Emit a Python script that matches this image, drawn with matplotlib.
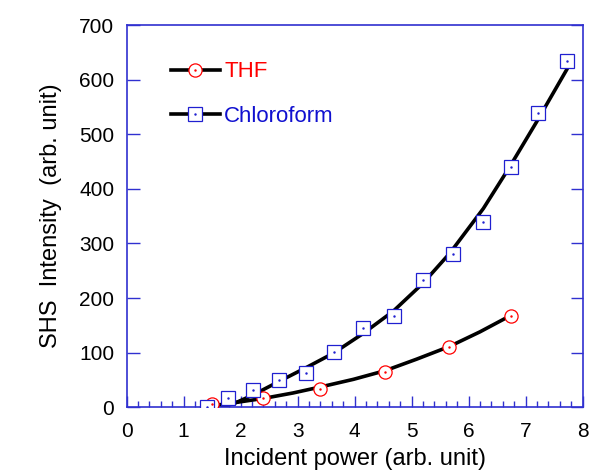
import matplotlib.pyplot as plt
from matplotlib.legend_handler import HandlerTuple

plt.rcParams['font.family'] = ['Liberation Sans', 'DejaVu Sans']

AXIS_BLUE = "#3030d0"

# measured points
THF_X = [1.49, 2.40, 3.40, 4.54, 5.66, 6.74]
THF_Y = [5.5, 17.6, 33.5, 65.2, 111, 167.7]

CHL_X = [1.41, 1.78, 2.21, 2.67, 3.14, 3.64, 4.15, 4.69, 5.20, 5.73, 6.25, 6.74, 7.21, 7.73]
CHL_Y = [0, 17.6, 32.3, 50.6, 63.4, 101.9, 144.6, 166.6, 233, 280.7, 339.3, 440.6, 539.5, 634.7]

# fitted curves
THF_FIT_X = [1.61, 2.40, 2.92, 3.40, 3.98, 4.54, 5.09, 5.66, 6.20, 6.74]
THF_FIT_Y = [4, 16, 26, 37, 51, 67, 88, 111, 138, 168]

CHL_FIT_X = [1.64, 1.87, 2.22, 2.69, 3.16, 3.63, 4.15, 4.68, 5.20, 5.67, 6.26, 6.72, 7.19, 7.72]
CHL_FIT_Y = [0, 6, 22.5, 48, 73, 99, 135, 176, 227, 282, 364, 440, 522, 618]

fig = plt.figure(figsize=(5.89, 4.74), dpi=100)
ax = fig.add_axes([0.215, 0.141, 0.774, 0.806])

ax.plot(THF_FIT_X, THF_FIT_Y, color="black", lw=2.6, zorder=2)
ax.plot(CHL_FIT_X, CHL_FIT_Y, color="black", lw=2.6, zorder=2)

ax.plot(THF_X, THF_Y, "o", ms=9.5, mfc="white", mec="red", mew=0.9, zorder=3)
ax.plot(THF_X, THF_Y, ".", ms=1.5, color="red", zorder=4)
ax.plot(CHL_X, CHL_Y, "s", ms=10, mfc="white", mec="#2020d0", mew=0.9, zorder=3)
ax.plot(CHL_X, CHL_Y, ".", ms=1.5, color="#2020d0", zorder=4)

# legend handles
h_thf = (plt.Line2D([], [], color="black", lw=2.6),
         plt.Line2D([], [], marker="o", ms=9.5, mfc="white", mec="red", mew=0.9, ls="none"),
         plt.Line2D([], [], marker=".", ms=1.5, color="red", ls="none"))
h_chl = (plt.Line2D([], [], color="black", lw=2.6),
         plt.Line2D([], [], marker="s", ms=10, mfc="white", mec="#2020d0", mew=0.9, ls="none"),
         plt.Line2D([], [], marker=".", ms=1.5, color="#2020d0", ls="none"))
leg = ax.legend([h_thf, h_chl], ["THF", "Chloroform"],
                handler_map={tuple: HandlerTuple(ndivide=1, pad=0)},
                loc="upper left", bbox_to_anchor=(0.097, 0.905), frameon=False,
                borderpad=0, borderaxespad=0,
                fontsize=16, handlelength=2.2, handletextpad=0.2, labelspacing=1.05)
leg.get_texts()[0].set_color("red")
leg.get_texts()[1].set_color("#1010d0")

ax.set_xlim(0, 8)
ax.set_ylim(0, 700)
ax.set_xticks(range(0, 9))
ax.set_xticks([i * 0.2 for i in range(41)], minor=True)
ax.set_yticks(range(0, 701, 100))

for s in ax.spines.values():
    s.set_color(AXIS_BLUE)
    s.set_linewidth(1.2)

ax.tick_params(axis="x", which="major", direction="in", length=8, width=1,
               color=AXIS_BLUE, labelsize=15, pad=11)
ax.tick_params(axis="x", which="minor", direction="in", length=4, width=1, color=AXIS_BLUE)
ax.tick_params(axis="y", which="major", direction="in", length=9, width=1,
               color=AXIS_BLUE, labelsize=15, right=True, pad=9)

ax.set_xlabel("Incident power (arb. unit)", fontsize=17, labelpad=5)
ax.set_ylabel("SHS  Intensity  (arb. unit)", fontsize=17, labelpad=12)

fig.savefig("out.png", dpi=100)
